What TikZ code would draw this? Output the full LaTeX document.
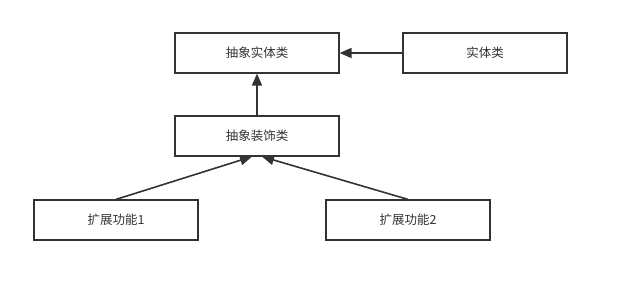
\documentclass[tikz,border=0pt]{standalone}
\usepackage{fontspec}
\setmainfont{Noto Sans CJK SC}
\usetikzlibrary{calc, arrows.meta}

\begin{document}
\begin{tikzpicture}[x=1pt, y=-1pt,
  box/.style={draw=black!80, line width=1.2pt, minimum width=164pt, minimum height=40pt,
    inner sep=0pt, text=black!80, font=\fontsize{12.5}{14}\selectfont},
  link/.style={draw=black!80, line width=1.6pt, -{Triangle[length=12pt, width=10pt]}}]
  \useasboundingbox (0,0) rectangle (639,299);
  % 上层两个类
  \node[box] (abs) at (257,53) {抽象实体类};
  \node[box] (real) at (485,53) {实体类};
  % 装饰类
  \node[box] (deco) at (257,136) {抽象装饰类};
  % 扩展功能
  \node[box] (ext1) at (116,220) {扩展功能1};
  \node[box] (ext2) at (408,220) {扩展功能2};
  \draw[link] (real) -- (abs);
  \draw[link] (deco) -- (abs);
  \draw[link] (ext1.north) -- ($(deco.south)+(-5,0)$);
  \draw[link] (ext2.north) -- ($(deco.south)+(5,0)$);
\end{tikzpicture}
\end{document}
